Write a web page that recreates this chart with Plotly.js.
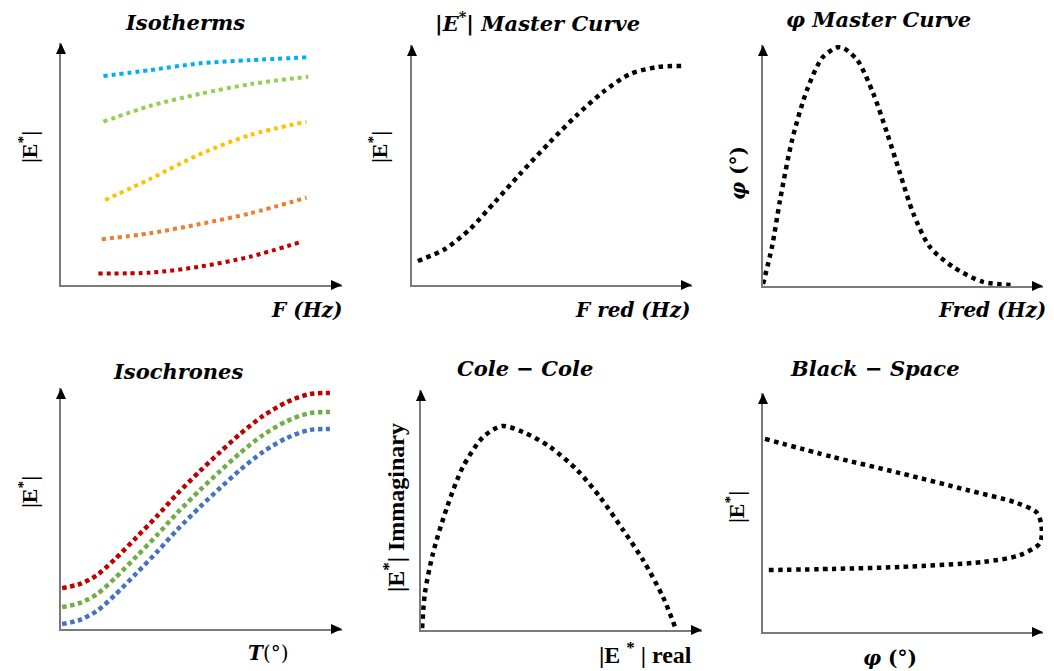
<!DOCTYPE html>
<html>
<head>
<meta charset="utf-8">
<script src="https://cdn.plot.ly/plotly-3.0.1.min.js"></script>
<style>html,body{margin:0;padding:0;background:#fff;}#chart{width:1054px;height:671px;}</style>
</head>
<body>
<div id="chart"></div>
<script>
// ---------- DATA (values in each panel's 0-100 schematic units) ----------
// Isotherms
const isoBlueX   = [15.1, 31.7, 49.5, 67.3, 88.0];
const isoBlueY   = [86.4, 88.8, 91.6, 92.9, 94.1];
const isoGreenX  = [15.1, 31.7, 49.5, 67.3, 88.0];
const isoGreenY  = [67.5, 74.0, 79.0, 83.0, 86.1];
const isoYellowX = [15.7, 31.7, 49.5, 67.3, 87.4];
const isoYellowY = [35.1, 43.8, 54.1, 62.0, 67.5];
const isoOrangeX = [14.5, 31.7, 49.5, 67.3, 87.4];
const isoOrangeY = [18.9, 21.4, 25.2, 29.6, 36.1];
const isoRedX    = [13.3, 31.7, 49.5, 67.3, 85.7];
const isoRedY    = [4.8, 5.1, 7.6, 11.7, 17.9];

// |E*| master curve
const mcX = [2.1, 11.8, 20.7, 29.6, 38.6, 49.3, 58.9, 68.2, 77.9, 87.5, 96.4];
const mcY = [10.0, 15.0, 23.3, 34.6, 46.3, 59.6, 70.8, 80.4, 87.9, 90.8, 91.3];

// phi master curve
const phiX = [0, 3.2, 6.1, 10.4, 15.7, 21.4, 27.5, 33.6, 39.3, 44.3, 48.9, 53.6, 59.6, 67.9, 78.6, 90.0];
const phiY = [0.8, 16.2, 35.7, 60.6, 81.3, 95.0, 99.2, 93.8, 80.1, 63.5, 46.9, 30.3, 16.2, 7.9, 1.7, 0.4];

// Isochrones
const ichX      = [0.4, 6.8, 12.8, 19.2, 27.0, 34.2, 41.3, 49.5, 56.6, 63.7, 71.9, 80.4, 88.6, 95.7];
const ichRedY   = [17.0, 18.7, 22.4, 29.0, 38.2, 46.9, 56.0, 65.6, 73.4, 80.9, 88.4, 94.2, 97.5, 97.9];
const ichGreenY = [9.1, 10.8, 14.5, 21.1, 30.3, 39.0, 48.1, 57.7, 65.5, 73.0, 80.5, 86.3, 89.6, 90.0];
const ichBlueY  = [2.1, 3.8, 7.5, 14.1, 23.3, 32.0, 41.1, 50.7, 58.5, 66.0, 73.5, 79.3, 82.6, 83.0];

// Cole-Cole
const ccX = [0.4, 1.4, 4.3, 9.3, 14.9, 22.1, 28.8, 36.3, 45.9, 55.5, 63.7, 71.9, 79.0, 86.1, 90.4];
const ccY = [0.8, 15.4, 32.1, 51.3, 67.9, 80.4, 85.0, 82.5, 76.3, 66.7, 55.4, 41.7, 29.2, 13.8, 1.3];

// Black space
const bsX = [0.7, 25.0, 48.9, 72.9, 90.7, 97.9, 99.5, 98.9, 91.8, 78.6, 48.9, 25.0, 1.8];
const bsY = [80.8, 73.2, 66.5, 59.4, 54.0, 49.8, 43.9, 37.2, 32.2, 29.3, 27.2, 26.4, 25.9];

// Text
const titles = ['Isotherms', '|<i>E</i><sup>*</sup>| Master Curve', 'φ Master Curve', 'Isochrones', 'Cole − Cole', 'Black − Space'];

// ---------- LAYOUT ----------
const W = 1054, H = 671;
const fx = v => v / W;
const fy = v => 1 - v / H;

// panel frames in pixels: origin (ox, oy), x-arrow tip, y-arrow tip
const frames = [
  {ox: 61,  oy: 285, tx: 342,  ty: 43},
  {ox: 412, oy: 285, tx: 692,  ty: 45},
  {ox: 763, oy: 286, tx: 1043, ty: 45},
  {ox: 61,  oy: 629, tx: 342,  ty: 388},
  {ox: 421, oy: 630, tx: 702,  ty: 390},
  {ox: 763, oy: 632, tx: 1043, ty: 393}
];

const layout = {
  width: W, height: H,
  margin: {l: 0, r: 0, t: 0, b: 0},
  paper_bgcolor: '#fff', plot_bgcolor: 'rgba(0,0,0,0)',
  showlegend: false,
  shapes: [], annotations: []
};

frames.forEach((f, i) => {
  const n = i === 0 ? '' : String(i + 1);
  const common = {showgrid: false, zeroline: false, showticklabels: false, ticks: '',
                  showline: true, linecolor: '#7a7a7a', linewidth: 2, range: [0, 100], fixedrange: true};
  layout['xaxis' + n] = Object.assign({}, common, {domain: [fx(f.ox), fx(f.tx)], anchor: 'y' + n});
  layout['yaxis' + n] = Object.assign({}, common, {domain: [fy(f.oy), fy(f.ty)], anchor: 'x' + n});
  // arrowheads (paper coords)
  const hw = 5, hl = 11;
  layout.shapes.push({type: 'path', xref: 'paper', yref: 'paper', fillcolor: '#000', line: {width: 0},
    path: `M ${fx(f.tx)} ${fy(f.oy)} L ${fx(f.tx - hl)} ${fy(f.oy - hw)} L ${fx(f.tx - hl)} ${fy(f.oy + hw)} Z`});
  layout.shapes.push({type: 'path', xref: 'paper', yref: 'paper', fillcolor: '#000', line: {width: 0},
    path: `M ${fx(f.ox)} ${fy(f.ty)} L ${fx(f.ox - hw)} ${fy(f.ty + hl)} L ${fx(f.ox + hw)} ${fy(f.ty + hl)} Z`});
});

const titleFont = {family: 'DejaVu Serif', size: 21, color: '#000'};
const titlePos = [[185, 22], [538, 22], [878, 20], [178, 371], [525, 368], [875, 368]];
titles.forEach((t, i) => {
  layout.annotations.push({xref: 'paper', yref: 'paper', x: fx(titlePos[i][0]), y: fy(titlePos[i][1]),
    xanchor: 'center', yanchor: 'middle', showarrow: false, text: '<b><i>' + t + '</i></b>', font: titleFont});
});

const serifB = {family: 'Liberation Serif', size: 22, color: '#000'};
const serifBL = {family: 'Liberation Serif', size: 24, color: '#000'};
const mathB = {family: 'DejaVu Serif', size: 20, color: '#000'};
function ann(text, x, y, font, opts) {
  layout.annotations.push(Object.assign({xref: 'paper', yref: 'paper', x: fx(x), y: fy(y),
    xanchor: 'center', yanchor: 'middle', showarrow: false, text: text, font: font}, opts || {}));
}
// x-axis labels
ann('<b><i>F (Hz)</i></b>', 344, 310, mathB, {xanchor: 'right'});
ann('<b><i>F red (Hz)</i></b>', 693, 310, mathB, {xanchor: 'right'});
ann('<b><i>Fred (Hz)</i></b>', 1048, 310, mathB, {xanchor: 'right'});
ann('<b><i>T</i></b>(°)', 268, 653, mathB);
ann('<b>|E <sup>*</sup> | real</b>', 694, 653, serifBL, {xanchor: 'right'});
ann('<b><i>φ</i> (°)</b>', 890, 658, mathB);
// y-axis labels
ann('<b>|E<sup>*</sup>|</b>', 28, 147, serifB, {textangle: -90});
ann('<b>|E<sup>*</sup>|</b>', 378, 147, serifB, {textangle: -90});
ann('<b><i>φ</i> (°)</b>', 738, 173, mathB, {textangle: -90});
ann('<b>|E<sup>*</sup>|</b>', 28, 492, serifB, {textangle: -90});
ann('<b>|E<sup>*</sup>| Immaginary</b>', 394, 508, serifBL, {textangle: -90});
ann('<b>|E<sup>*</sup>|</b>', 735, 507, serifB, {textangle: -90});

// ---------- TRACES ----------
function tr(x, y, color, axis, w, dash) {
  return {x: x, y: y, xaxis: 'x' + axis, yaxis: 'y' + axis, type: 'scatter', mode: 'lines',
    cliponaxis: false, hoverinfo: 'skip',
    line: {color: color, width: w, dash: dash, shape: 'spline', smoothing: 0.8}};
}
const d1 = '4px,4px', d2 = '4.5px,4.5px', d4 = '4.5px,3.5px';
const data = [
  tr(isoBlueX, isoBlueY, '#00B0F0', '', 4, d1),
  tr(isoGreenX, isoGreenY, '#92D050', '', 4, d1),
  tr(isoYellowX, isoYellowY, '#FFC000', '', 4, d1),
  tr(isoOrangeX, isoOrangeY, '#ED7D31', '', 4, d1),
  tr(isoRedX, isoRedY, '#C00000', '', 4, d1),
  tr(mcX, mcY, '#000', '2', 4.5, d2),
  tr(phiX, phiY, '#000', '3', 4.5, d2),
  tr(ichX, ichRedY, '#C00000', '4', 4.5, d4),
  tr(ichX, ichGreenY, '#70AD47', '4', 4.5, d4),
  tr(ichX, ichBlueY, '#4472C4', '4', 4.5, d4),
  tr(ccX, ccY, '#000', '5', 4.5, d2),
  tr(bsX, bsY, '#000', '6', 4.5, d2)
];

Plotly.newPlot('chart', data, layout, {staticPlot: true, displayModeBar: false});
</script>
</body>
</html>
